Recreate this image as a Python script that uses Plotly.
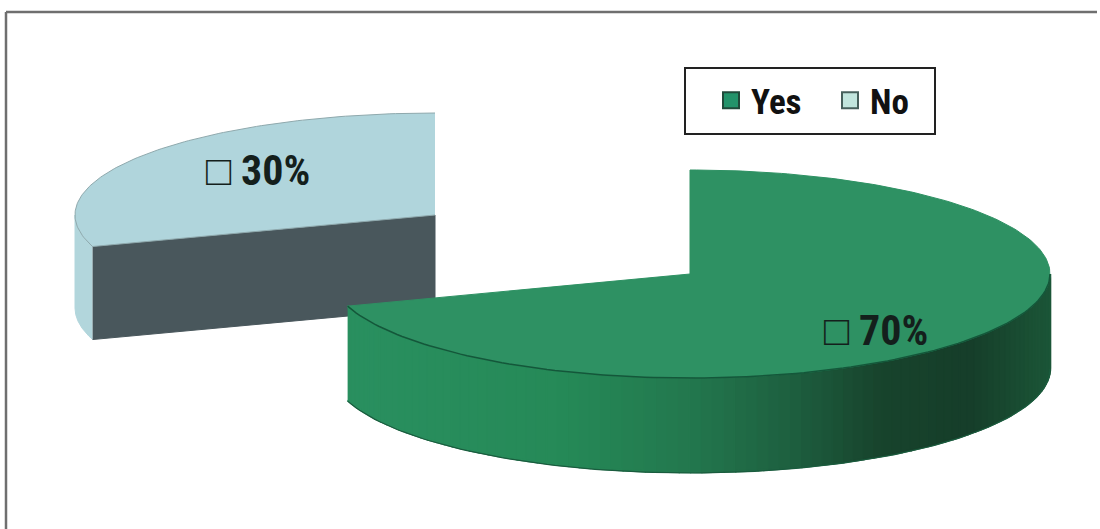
import math
import plotly.graph_objects as go

categories = ["Yes", "No"]
values = [70, 30]
labels = ["□ 70%", "□ 30%"]

FONT = "Liberation Sans Narrow, Roboto Condensed, Archivo Narrow, Liberation Sans, sans-serif"
W, H = 1100, 529
RX = 360
RY = {"Yes": 104, "No": 102}
DEPTH = {"Yes": 94, "No": 93}
CENTRES = {"Yes": (690, 274), "No": (435, 215)}
TOP = {"Yes": "#2e9163", "No": "#b0d5dc"}
CUT = {"No": "#49575c"}
GREEN_STOPS = [(347, (42, 144, 96)), (560, (38, 138, 88)), (690, (35, 120, 78)),
               (790, (30, 96, 64)), (880, (24, 68, 45)), (970, (22, 62, 42)),
               (1050, (28, 86, 56))]
total = sum(values)
fig = go.Figure()


def point(k, a, dz=0):
    """a = degrees clockwise from twelve o'clock on the projected pie."""
    c = CENTRES[k]
    r = math.radians(a)
    return c[0] + RX * math.sin(r), c[1] - RY[k] * math.cos(r) + dz


def arc(k, a0, a1, dz=0, n=120):
    pts = [point(k, a0 + (a1 - a0) * i / n, dz) for i in range(n + 1)]
    return [p[0] for p in pts], [p[1] for p in pts]


def poly(xs, ys, fill, line=None, width=1):
    fig.add_trace(go.Scatter(x=xs, y=ys, mode="lines", fill="toself", fillcolor=fill,
                             line=dict(color=line or fill, width=width),
                             hoverinfo="skip", showlegend=False))


def shade(x):
    for (x0, c0), (x1, c1) in zip(GREEN_STOPS, GREEN_STOPS[1:]):
        if x <= x1:
            t = max(0, (x - x0) / (x1 - x0))
            return "rgb(%d,%d,%d)" % tuple(c0[i] + (c1[i] - c0[i]) * t for i in range(3))
    return "rgb(%d,%d,%d)" % GREEN_STOPS[-1][1]


yes_sweep = 360 * values[0] / total
no_sweep = 360 * values[1] / total

# "No" slice: drawn first, green overlaps it
k = "No"
c = CENTRES[k]
a0 = 360 - no_sweep
ax, ay = arc(k, a0, 270)
bx, by = arc(k, a0, 270, DEPTH[k])
poly(ax + bx[::-1], ay + by[::-1], "#b2d6dc")
p = point(k, a0)
q = point(k, a0, DEPTH[k])
poly([p[0], c[0], c[0], q[0]], [p[1], c[1], c[1] + DEPTH[k], q[1]], CUT[k])
tx, ty = arc(k, a0, 360)
poly([c[0]] + tx, [c[1]] + ty, TOP[k], "#8fa9ad", 1)

# "Yes" slice: wall as thin overlapping shaded strips, then the top face
k = "Yes"
c = CENTRES[k]
n = 90
start = yes_sweep
stop = 90
for i in range(n):
    a = start + (stop - start) * i / n
    b = start + (stop - start) * (i + 1) / n
    p0, p1 = point(k, a), point(k, b)
    q0, q1 = point(k, a, DEPTH[k]), point(k, b, DEPTH[k])
    poly([p0[0], p1[0], q1[0], q0[0]], [p0[1], p1[1], q1[1], q0[1]],
         shade((p0[0] + p1[0]) / 2), width=2.5)
gx, gy = arc(k, 90, yes_sweep, DEPTH[k] + 1)
fig.add_trace(go.Scatter(x=gx, y=gy, mode="lines", line=dict(color="#1a5c3e", width=1.2),
                         hoverinfo="skip", showlegend=False))
tx, ty = arc(k, 0, yes_sweep, n=240)
poly([c[0]] + tx + [c[0]], [c[1]] + ty + [c[1]], TOP[k], TOP[k], 1)
fx, fy = arc(k, 90, yes_sweep)
fig.add_trace(go.Scatter(x=fx, y=fy, mode="lines", line=dict(color="#14573a", width=1.5),
                         hoverinfo="skip", showlegend=False))

# legend entries
for name, col, edge in zip(categories, ["#22936a", "#c2e6de"], ["#1f4a3a", "#47605c"]):
    fig.add_trace(go.Scatter(x=[None], y=[None], mode="markers", name=name,
                             marker=dict(symbol="square", size=17, color=col,
                                         line=dict(color=edge, width=2))))

annotations = [
    dict(x=876, y=330, text="<b>%s</b>" % labels[0]),
    dict(x=258, y=170, text="<b>%s</b>" % labels[1]),
]
for a in annotations:
    a.update(xref="x", yref="y", showarrow=False, font=dict(family=FONT, size=42, color="#141f1c"))

fig.update_layout(
    width=W, height=H, autosize=False,
    margin=dict(l=0, r=0, t=0, b=0),
    paper_bgcolor="white", plot_bgcolor="white",
    xaxis=dict(range=[0, W], visible=False, fixedrange=True),
    yaxis=dict(range=[H, 0], visible=False, fixedrange=True),
    annotations=annotations,
    legend=dict(orientation="h", x=711 / W, y=1 - 71 / H,
                xanchor="left", yanchor="top",
                bgcolor="rgba(0,0,0,0)", borderwidth=0,
                font=dict(family=FONT, size=35, color="#111111", weight=700),
                itemwidth=30, entrywidth=74, traceorder="normal",
                itemclick=False, itemdoubleclick=False),
    shapes=[
        dict(type="rect", xref="x", yref="y", x0=685, y0=68, x1=935, y1=134,
             fillcolor="white", line=dict(color="#222222", width=2), layer="above"),
        dict(type="line", xref="x", yref="y", x0=6, y0=12, x1=1097, y1=12,
             line=dict(color="#6f6f6f", width=2.5), layer="below"),
        dict(type="line", xref="x", yref="y", x0=6, y0=12, x1=6, y1=H,
             line=dict(color="#6f6f6f", width=2.5), layer="below"),
    ],
)
fig.write_html("out.html", config={"displayModeBar": False},
               post_script="document.body.style.margin='0';")
